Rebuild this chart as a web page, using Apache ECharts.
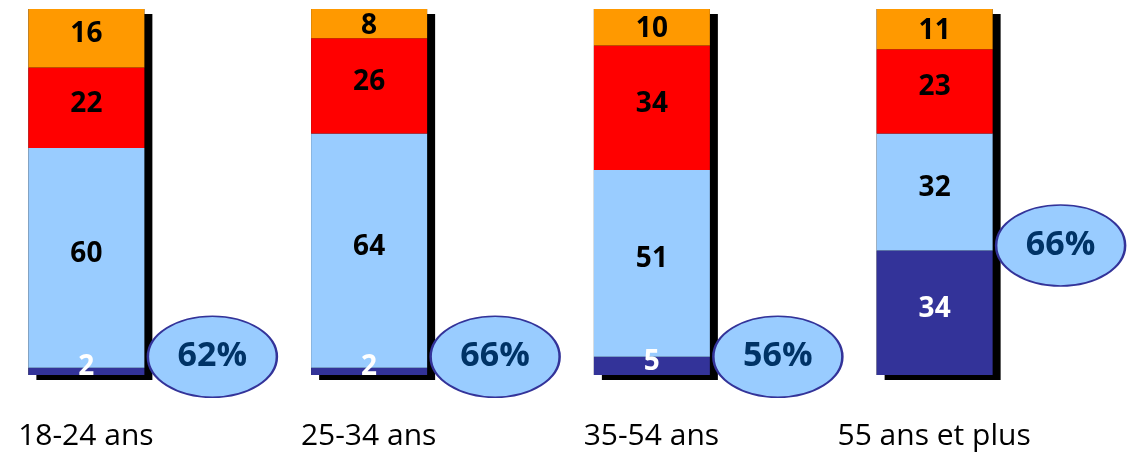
<!DOCTYPE html>
<html><head><meta charset="utf-8">
<script src="https://cdn.jsdelivr.net/npm/echarts@6/dist/echarts.min.js"></script>
<style>html,body{margin:0;padding:0;background:#fff}#c{width:1131px;height:454px}</style>
</head><body><div id="c"></div>
<script>
const categories = ['18-24 ans', '25-34 ans', '35-54 ans', '55 ans et plus'];
const darkBlue = [2, 2, 5, 34];
const lightBlue = [60, 64, 51, 32];
const red = [22, 26, 34, 23];
const orange = [16, 8, 10, 11];
const bubblePct = [62, 66, 56, 66];

const totals = categories.map((_, i) => darkBlue[i] + lightBlue[i] + red[i] + orange[i]);
const FONT = 'Open Sans';
const BW = 116;     // bar width
const GHOST = 226;  // invisible last slot: with barGap -100% all slots share its left edge

function seg(name, data, color, textColor, isTop) {
  return {
    name, type: 'bar', stack: 'main',
    data: data.map(v => ({ value: v, label: { offset: [0, isTop && v <= 12 ? 2 : -4] } })),
    barWidth: BW, barGap: '-100%', z: 3,
    itemStyle: { color },
    label: {
      show: true, position: 'inside', color: textColor,
      fontFamily: FONT, fontWeight: 'bold', fontSize: 28
    }
  };
}

const ellipsePath = 'path://M0,50 A50,50 0 1,1 100,50 A50,50 0 1,1 0,50 Z';

const chart = echarts.init(document.getElementById('c'), null, { renderer: 'canvas' });
chart.setOption({
  animation: false,
  grid: { left: 0, width: 1136, top: 9, bottom: 79, containLabel: false },
  xAxis: {
    type: 'category', data: categories,
    axisLine: { show: false }, axisTick: { show: false },
    axisLabel: {
      fontFamily: FONT, fontSize: 30, color: '#000', margin: 46, interval: 0,
      padding: [0, 111, 0, 0]
    }
  },
  yAxis: { type: 'value', min: 0, max: 100, show: false },
  series: [
    {
      name: 'ombre', type: 'bar', stack: 'shadow', data: totals, barWidth: BW, barGap: '-100%', z: 1, silent: true,
      itemStyle: { color: '#000', shadowColor: '#000', shadowBlur: 0, shadowOffsetX: 8, shadowOffsetY: 5 }
    },
    seg('d', darkBlue, '#333399', '#fff', false),
    seg('l', lightBlue, '#99ccff', '#000', false),
    seg('r', red, '#ff0000', '#000', false),
    seg('o', orange, '#ff9900', '#000', true),
    { name: 'ghost', type: 'bar', stack: 'ghost', barWidth: GHOST, barGap: '-100%', data: categories.map(() => '-'), silent: true },
    {
      name: 'pct', type: 'scatter', z: 10, clip: false, silent: true,
      data: categories.map((c, i) => [i, darkBlue[i] >= 10 ? darkBlue[i] + 1.4 : 5]),
      symbol: ellipsePath, symbolSize: [129, 81], symbolOffset: [71, 0],
      itemStyle: { color: '#99ccff', borderColor: '#333399', borderWidth: 2, opacity: 1 },
      label: {
        show: true, position: 'inside', formatter: p => bubblePct[p.dataIndex] + '%',
        color: '#003366', fontFamily: FONT, fontWeight: 'bold', fontSize: 34
      }
    }
  ]
});
</script></body></html>
